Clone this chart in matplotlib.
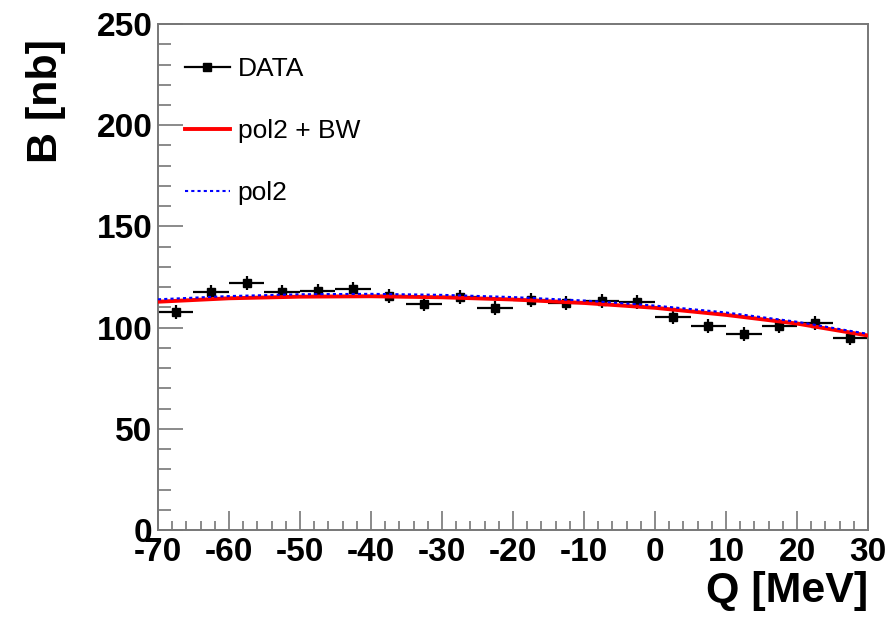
import matplotlib.pyplot as plt
from matplotlib.lines import Line2D
from matplotlib.ticker import MultipleLocator

plt.rcParams["font.family"] = ["Liberation Sans", "DejaVu Sans"]
plt.rcParams["axes.unicode_minus"] = False

# measured points (bin centres, 5 MeV bins)
q = [-67.5, -62.5, -57.5, -52.5, -47.5, -42.5, -37.5, -32.5, -27.5, -22.5,
     -17.5, -12.5, -7.5, -2.5, 2.5, 7.5, 12.5, 17.5, 22.5, 27.5]
b = [107.6, 117.4, 122.2, 117.7, 118.1, 118.9, 115.8, 111.7, 115.0, 109.5,
     113.6, 112.0, 113.1, 112.5, 105.1, 100.9, 96.7, 100.9, 102.1, 94.7]
b_err = [3.5] * len(q)
q_err = [2.5] * len(q)

# fit curves
fit_q = [-70, -60, -50, -40, -30, -20, -10, 0, 10, 20, 30]
pol2 = [114.0, 115.6, 116.5, 116.7, 116.2, 115.1, 113.4, 110.9, 107.5, 102.9, 96.9]
pol2_bw = [112.8, 114.5, 115.3, 115.5, 115.0, 113.9, 112.2, 109.8, 106.3, 102.0, 96.1]

fig = plt.figure(figsize=(8.91, 6.28), dpi=100)
ax = fig.add_axes([0.1773, 0.156, 0.7969, 0.8057])

ax.errorbar(q, b, xerr=q_err, yerr=b_err, fmt="s", color="black",
            markersize=6, elinewidth=1.6, capsize=0, zorder=2)
ax.plot(fit_q, pol2_bw, color="red", lw=2.8, zorder=3)
ax.plot(fit_q, pol2, color="blue", lw=1.5, linestyle=(0, (1.5, 1.5)), zorder=4)

ax.set_xlim(-70, 30)
ax.set_ylim(0, 250)
ax.xaxis.set_major_locator(MultipleLocator(10))
ax.xaxis.set_minor_locator(MultipleLocator(2))
ax.yaxis.set_major_locator(MultipleLocator(50))
ax.yaxis.set_minor_locator(MultipleLocator(10))

for s in ax.spines.values():
    s.set_color("#777777")
    s.set_linewidth(1.4)
ax.tick_params(axis="both", which="both", direction="in", color="#777777",
               top=False, right=False)
ax.tick_params(axis="y", which="major", length=18, width=1.2, pad=4, labelsize=24)
ax.tick_params(axis="y", which="minor", length=9, width=1.2)
ax.tick_params(axis="x", which="major", length=14, width=1.2, pad=5, labelsize=24)
ax.tick_params(axis="x", which="minor", length=6.5, width=1.2)
for lab in ax.get_xticklabels() + ax.get_yticklabels():
    lab.set_fontweight("bold")

ax.set_xlabel("Q [MeV]", fontsize=31, fontweight="bold", loc="right", labelpad=2)
ax.set_ylabel("B [nb]", fontsize=31, fontweight="bold", loc="top", labelpad=22)
ax.yaxis.label.set_y(0.97)

handles = [
    Line2D([], [], color="black", marker="s", markersize=6, lw=1.6),
    Line2D([], [], color="red", lw=2.8),
    Line2D([], [], color="blue", lw=1.5, linestyle=(0, (1.5, 1.5))),
]
ax.legend(handles, ["DATA", "pol2 + BW", "pol2"], loc="upper left",
          bbox_to_anchor=(0.038, 0.935), frameon=False, fontsize=19,
          handlelength=1.7, handletextpad=0.3, labelspacing=1.45,
          borderpad=0, borderaxespad=0, numpoints=1)

fig.savefig("out.png", dpi=100)
